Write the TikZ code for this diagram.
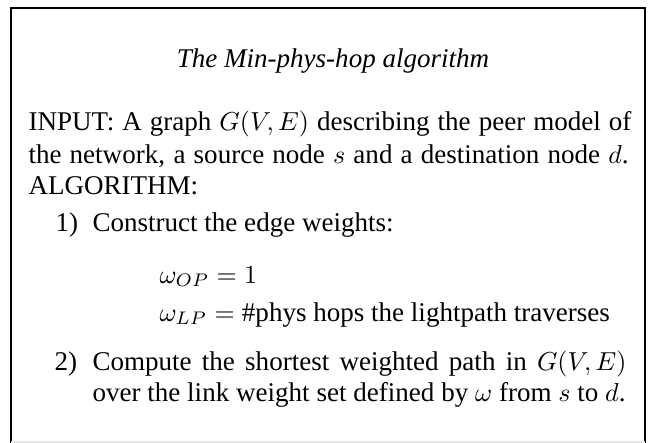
\documentclass[tikz,border=0pt]{standalone}
\usepackage{fontspec}
\setmainfont{Liberation Serif}
\begin{document}
\begin{tikzpicture}[x=0.3846pt,y=-0.3846pt,
  txt/.style={inner sep=0pt, anchor=base west, font=\fontsize{10.4pt}{12.5pt}\selectfont},
  frame/.style={line width=0.45pt, black}]
\useasboundingbox (0,0) rectangle (651,443);
\draw[frame] (11,443) -- (11,8) -- (645,8) -- (645,443);
\draw[gray!20, line width=0.4pt] (11,442) -- (645,442);
\node[txt, anchor=base] (title) at (333,68) {\itshape The Min-phys-hop algorithm};
\node[txt] (in1) at (28,130) {\makebox[231.9pt][s]{INPUT: A graph $G(V,E)$ describing the peer model of}};
\node[txt] (in2) at (28,163) {\makebox[230.8pt][s]{the network, a source node $s$ and a destination node $d$.}};
\node[txt] (alg) at (28,194) {ALGORITHM:};
\node[txt] (n1) at (55,231) {1)};
\node[txt] (c1) at (92,231) {Construct the edge weights:};
\node[txt] (wop) at (159,283) {$\omega_{OP} = 1$};
\node[txt] (wlp) at (159,321) {$\omega_{LP} = \mbox{\#phys hops the lightpath traverses}$};
\node[txt] (n2) at (54,370) {2)};
\node[txt] (c2a) at (92,370) {\makebox[205.4pt][s]{Compute the shortest weighted path in $G(V,E)$}};
\node[txt] (c2b) at (92,401) {\makebox[205pt][s]{over the link weight set defined by $\omega$ from $s$ to $d$.}};
\end{tikzpicture}
\end{document}
